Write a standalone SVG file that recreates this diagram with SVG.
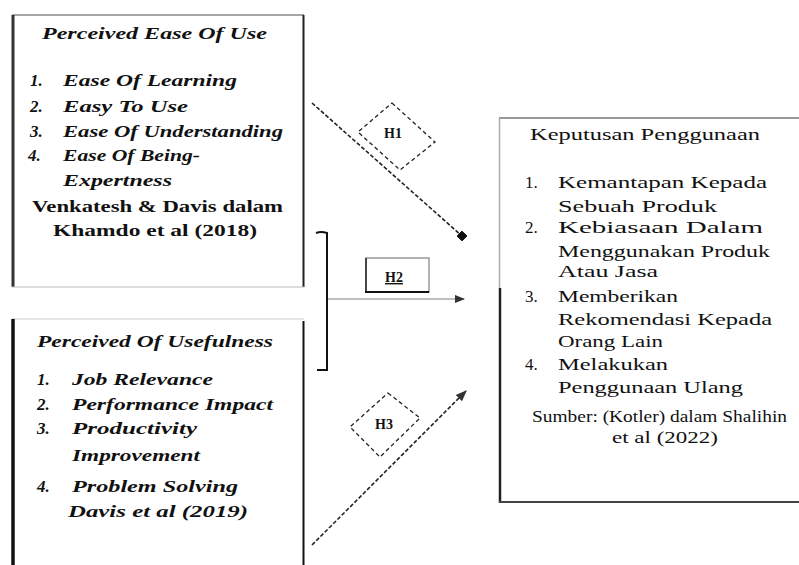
<svg xmlns="http://www.w3.org/2000/svg" width="799" height="565" viewBox="0 0 799 565">
<style>
.t{font-family:"Liberation Serif","Times New Roman",serif;font-size:17px;fill:#111}
.it{font-style:italic;font-weight:bold}
.bd{font-weight:bold}
.lb{font-family:"Liberation Serif","Times New Roman",serif;font-size:14px;font-weight:bold;fill:#111}
.dash{fill:none;stroke:#222;stroke-width:1.6;stroke-dasharray:4 2}
.dia{fill:none;stroke:#222;stroke-width:1.3;stroke-dasharray:4 3}
</style>
<defs>
<marker id="sq" viewBox="0 0 10 10" refX="5" refY="5" markerWidth="5" markerHeight="5" orient="auto">
<rect x="0" y="0" width="10" height="10" fill="#111"/>
</marker>
<marker id="ar" viewBox="0 0 10 10" refX="9" refY="5" markerWidth="7" markerHeight="7" orient="auto">
<path d="M0,1 L10,5 L0,9 z" fill="#333"/>
</marker>
</defs>

<g id="node-peou">
<line x1="12" y1="15" x2="304" y2="15" stroke="#888" stroke-width="1.5"/>
<line x1="13" y1="15" x2="13" y2="287" stroke="#333" stroke-width="3"/>
<line x1="303.5" y1="15" x2="303.5" y2="287" stroke="#222" stroke-width="2"/>
<line x1="12" y1="287" x2="304" y2="287" stroke="#bbb" stroke-width="1"/>
<text class="t it" x="42" y="39" textLength="225" lengthAdjust="spacingAndGlyphs">Perceived Ease Of Use</text>
<text class="t it" x="30" y="86">1.</text>
<text class="t it" x="63" y="86" textLength="174" lengthAdjust="spacingAndGlyphs">Ease Of Learning</text>
<text class="t it" x="30" y="112">2.</text>
<text class="t it" x="63" y="112" textLength="125" lengthAdjust="spacingAndGlyphs">Easy To Use</text>
<text class="t it" x="30" y="137">3.</text>
<text class="t it" x="63" y="137" textLength="220" lengthAdjust="spacingAndGlyphs">Ease Of Understanding</text>
<text class="t it" x="28" y="161">4.</text>
<text class="t it" x="63" y="161" textLength="137" lengthAdjust="spacingAndGlyphs">Ease Of Being-</text>
<text class="t it" x="63" y="186" textLength="109" lengthAdjust="spacingAndGlyphs">Expertness</text>
<text class="t bd" x="32" y="212" textLength="251" lengthAdjust="spacingAndGlyphs">Venkatesh &amp; Davis dalam</text>
<text class="t bd" x="53" y="236" textLength="204" lengthAdjust="spacingAndGlyphs">Khamdo et al (2018)</text>
</g>

<g id="node-pou">
<line x1="12" y1="319" x2="304" y2="319" stroke="#ccc" stroke-width="1.2"/>
<line x1="13" y1="319" x2="13" y2="565" stroke="#111" stroke-width="3.5"/>
<line x1="303.5" y1="321" x2="303.5" y2="565" stroke="#111" stroke-width="2"/>
<text class="t it" x="37" y="347" textLength="236" lengthAdjust="spacingAndGlyphs">Perceived Of Usefulness</text>
<text class="t it" x="37" y="385">1.</text>
<text class="t it" x="72" y="385" textLength="141" lengthAdjust="spacingAndGlyphs">Job Relevance</text>
<text class="t it" x="37" y="410">2.</text>
<text class="t it" x="72" y="410" textLength="201" lengthAdjust="spacingAndGlyphs">Performance Impact</text>
<text class="t it" x="37" y="434">3.</text>
<text class="t it" x="72" y="434" textLength="125" lengthAdjust="spacingAndGlyphs">Productivity</text>
<text class="t it" x="72" y="461" textLength="128" lengthAdjust="spacingAndGlyphs">Improvement</text>
<text class="t it" x="37" y="492">4.</text>
<text class="t it" x="72" y="492" textLength="166" lengthAdjust="spacingAndGlyphs">Problem Solving</text>
<text class="t it" x="68" y="517" textLength="180" lengthAdjust="spacingAndGlyphs">Davis et al (2019)</text>
</g>

<g id="node-kp">
<line x1="499" y1="118" x2="799" y2="118" stroke="#777" stroke-width="1.5"/>
<line x1="499.5" y1="118" x2="499.5" y2="288" stroke="#aaa" stroke-width="1.5"/>
<line x1="500" y1="288" x2="500" y2="503" stroke="#222" stroke-width="2.5"/>
<line x1="499" y1="502" x2="799" y2="502" stroke="#444" stroke-width="2"/>
<text class="t" x="530" y="140" textLength="230" lengthAdjust="spacingAndGlyphs">Keputusan Penggunaan</text>
<text class="t" x="525" y="188">1.</text>
<text class="t" x="558" y="188" textLength="209" lengthAdjust="spacingAndGlyphs">Kemantapan Kepada</text>
<text class="t" x="558" y="212" textLength="159" lengthAdjust="spacingAndGlyphs">Sebuah Produk</text>
<text class="t" x="525" y="233">2.</text>
<text class="t" x="558" y="233" textLength="205" lengthAdjust="spacingAndGlyphs">Kebiasaan Dalam</text>
<text class="t" x="558" y="257" textLength="212" lengthAdjust="spacingAndGlyphs">Menggunakan Produk</text>
<text class="t" x="558" y="277" textLength="100" lengthAdjust="spacingAndGlyphs">Atau Jasa</text>
<text class="t" x="525" y="302">3.</text>
<text class="t" x="558" y="302" textLength="120" lengthAdjust="spacingAndGlyphs">Memberikan</text>
<text class="t" x="558" y="325" textLength="214" lengthAdjust="spacingAndGlyphs">Rekomendasi Kepada</text>
<text class="t" x="558" y="347" textLength="105" lengthAdjust="spacingAndGlyphs">Orang Lain</text>
<text class="t" x="525" y="370">4.</text>
<text class="t" x="558" y="370" textLength="110" lengthAdjust="spacingAndGlyphs">Melakukan</text>
<text class="t" x="558" y="393" textLength="185" lengthAdjust="spacingAndGlyphs">Penggunaan Ulang</text>
<text class="t" x="532" y="422" textLength="255" lengthAdjust="spacingAndGlyphs">Sumber: (Kotler) dalam Shalihin</text>
<text class="t" x="612" y="443" textLength="106" lengthAdjust="spacingAndGlyphs">et al (2022)</text>
</g>

<g id="connectors">
<line class="dash" x1="312" y1="103" x2="462" y2="236" marker-end="url(#sq)"/>
<path d="M316,233 Q321,231 327,233 L327,370 L317,370" fill="none" stroke="#111" stroke-width="2"/>
<line x1="328" y1="299" x2="464" y2="299" stroke="#aaa" stroke-width="1.5" marker-end="url(#ar)"/>
<line class="dash" x1="312" y1="545" x2="466" y2="391" marker-end="url(#ar)"/>
</g>

<g id="label-h1">
<polygon class="dia" points="392,103 435,142 400,170 358,132"/>
<text class="lb" x="393" y="138" text-anchor="middle">H1</text>
</g>
<g id="label-h2">
<rect x="366" y="258" width="63" height="34" fill="#fff" stroke="#999" stroke-width="1.5"/>
<line x1="366" y1="258" x2="366" y2="292" stroke="#222" stroke-width="1.5"/>
<line x1="365" y1="292" x2="429" y2="292" stroke="#111" stroke-width="2"/>
<text class="lb" x="394" y="282" text-anchor="middle" text-decoration="underline">H2</text>
</g>
<g id="label-h3">
<polygon class="dia" points="388,393 420,418 380,457 350,427"/>
<text class="lb" x="384" y="429" text-anchor="middle">H3</text>
</g>
</svg>
